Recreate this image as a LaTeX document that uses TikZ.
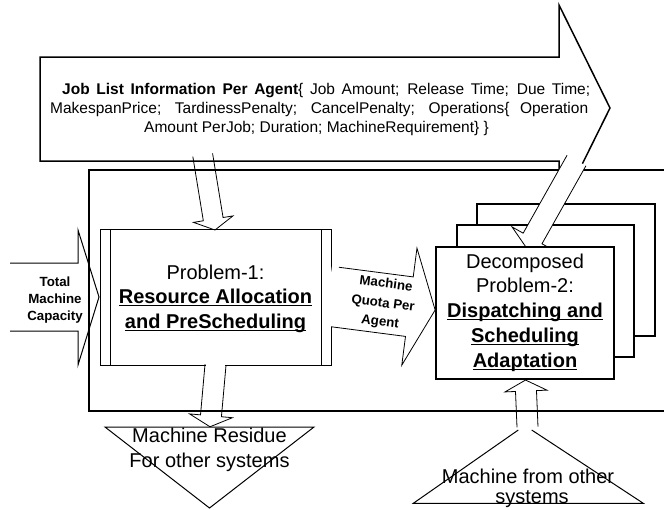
\documentclass[tikz,border=0pt]{standalone}
\usepackage{fontspec}
\setmainfont{Liberation Sans}
% underline at a fixed depth below the baseline, crossing descenders
\newcommand\ulword[1]{\setbox0=\hbox{#1}\rlap{\rule[-2.6pt]{\wd0}{1.1pt}}\box0}
\tikzset{
  % open-tailed block arrow along the local x axis:
  % #1 total length, #2 shaft half width, #3 head half width, #4 head length
  pics/blockarrow/.style n args={4}{code={%
    \path[pic actions] (0,#2) -- ({#1-#4},#2) -- ({#1-#4},#3) -- (#1,0)
      -- ({#1-#4},-#3) -- ({#1-#4},-#2) -- (0,-#2);
  }},
}
\begin{document}
\begin{tikzpicture}[x=1pt,y=-1pt,
  heavy/.style={line width=1.5pt, line join=miter},
  stackbox/.style={line width=1.8pt, line join=miter, fill=white},
  light/.style={line width=0.8pt},
  mid/.style={line width=1pt},
  bigtxt/.style={font=\fontsize{20}{24}\selectfont, inner sep=0pt, anchor=base},
  bigbold/.style={font=\bfseries\fontsize{20}{24}\selectfont, inner sep=0pt, anchor=base},
  jobtxt/.style={font=\fontsize{15.5}{19}\selectfont, inner sep=0pt, anchor=base west},
  smallbold/.style={font=\bfseries\fontsize{13.3}{17}\selectfont, inner sep=0pt, anchor=base},
]
\useasboundingbox (0,0) rectangle (664,509);
\clip (0,0) rectangle (664,509);

% ---- job list information arrow
\draw[heavy, fill=white] (40,57) -- (559,57) -- (559,5) -- (610,108) -- (559,211)
  -- (559,161) -- (40,161) -- cycle;
\node[jobtxt] (jl1) at (62,94.5) {\makebox[528pt][s]{\textbf{Job List Information Per Agent}\{ Job Amount; Release Time; Due Time;}};
\node[jobtxt] (jl2) at (50,113.5) {\makebox[538pt][s]{MakespanPrice; TardinessPenalty; CancelPenalty; Operations\{ Operation}};
\node[jobtxt, anchor=base] (jl3) at (316.5,132.5) {Amount PerJob; Duration; MachineRequirement\} \}};

% ---- system boundary
\draw[heavy, fill=white] (89,170) rectangle (700,411);

% ---- stack of decomposed problems (back copies)
\draw[stackbox] (477,204) rectangle (655,336);
\draw[stackbox] (457,225) rectangle (634,357);

% job list feeding the decomposed problems
\pic[draw, fill=white, light, rotate=-119.4] at (576.5,160.5) {blockarrow={101}{10.8}{23.6}{11.5}};

% ---- front decomposed problem
\node[draw, stackbox, minimum width=178pt, minimum height=132pt, inner sep=0pt,
  outer sep=0pt, anchor=north west] (dp) at (436,247) {};
\node[bigtxt] (dp1) at (525,268) {Decomposed};
\node[bigtxt] (dp2) at (525,292) {Problem-2:};
\node[bigbold] (dp3) at (525,317) {\ulword{Dispatching and}};
\node[bigbold] (dp4) at (525,342) {\ulword{Scheduling}};
\node[bigbold] (dp5) at (525,367) {\ulword{Adaptation}};

% ---- problem 1
\node[draw, mid, fill=white, minimum width=231pt, minimum height=136pt, inner sep=0pt,
  outer sep=0pt, anchor=north west] (p1) at (100,229) {};
\draw[mid] ([xshift=10pt]p1.north west) -- ([xshift=10pt]p1.south west);
\draw[mid] ([xshift=-10pt]p1.north east) -- ([xshift=-10pt]p1.south east);
\node[bigtxt] (p1a) at (215.5,279) {Problem-1:};
\node[bigbold] (p1b) at (215.5,303) {\ulword{Resource Allocation}};
\node[bigbold] (p1c) at (215.5,328.5) {\ulword{and PreScheduling}};

% job list feeding problem 1
\pic[draw, light, rotate=-80.7] at (202.7,155) {blockarrow={76}{10}{20}{11}};

% ---- machine quota per agent
\begin{scope}[shift={(335,297)}, rotate=-7.4]
  \fill[white] (-7,-30) -- (75,-30) -- (75,-59) -- (101,0) -- (75,59) -- (75,30) -- (-7,30) -- cycle;
  \draw[light] (0,-30) -- (75,-30) -- (75,-59) -- (101,0) -- (75,59) -- (75,30) -- (0,30);
  \node[smallbold, transform shape] (quota1) at (49,-15.5) {Machine};
  \node[smallbold, transform shape] (quota2) at (48.5,4) {Quota Per};
  \node[smallbold, transform shape] (quota3) at (48,23) {Agent};
\end{scope}

% ---- total machine capacity
\draw[mid] (10,263) -- (78,263) -- (78,230) -- (99,297) -- (78,365) -- (78,331) -- (10,331);
\node[smallbold] (tmc1) at (55,286.5) {Total};
\node[smallbold] (tmc2) at (55,303) {Machine};
\node[smallbold] (tmc3) at (55,320) {Capacity};

% ---- machine residue
\draw[white, line width=2pt] (206.2,365) -- (224.8,365);
\pic[draw, light, rotate=-95.1] at (215.5,365) {blockarrow={62}{10.5}{21.5}{11}};
\draw[mid] (105,427) -- (314,427) -- (209.5,508) -- cycle;
\node[bigtxt] (mr1) at (209.5,442) {Machine Residue};
\node[bigtxt] (mr2) at (209.5,467) {For other systems};

% ---- machines from other systems
\draw[mid] (518.3,430) -- (413.3,503.3) -- (643.3,503.3) -- (531.7,430);
\pic[draw, light, rotate=92.4] at (527.5,427) {blockarrow={47}{10.5}{21}{11}};
\node[bigtxt] (mo1) at (528,483) {Machine from other};
\node[bigtxt] (mo2) at (532,503.5) {systems};
\end{tikzpicture}
\end{document}
